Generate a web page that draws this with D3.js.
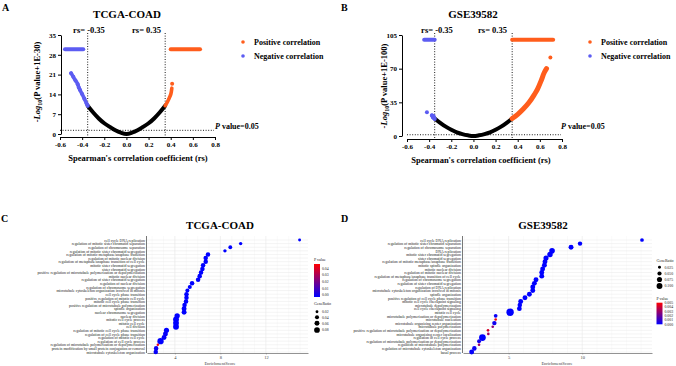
<!DOCTYPE html>
<html>
<head>
<meta charset="utf-8">
<script src="https://cdn.jsdelivr.net/npm/d3@7"></script>
<style>
body { margin: 0; background: #fff; }
svg { display: block; }
</style>
</head>
<body>
<script>
// ---- volcano panels (A, B) ----
var rsTicks = [-0.6, -0.4, -0.2, 0, 0.2, 0.4, 0.6, 0.8];
var yTicksA = [0, 7, 14, 21, 28, 35];
var yTicksB = [0, 35, 70, 105];

var curveRs = [-0.35, -0.3, -0.25, -0.2, -0.15, -0.1, -0.05, 0, 0.05, 0.1, 0.15, 0.2, 0.25, 0.3, 0.35];
var curveA = [10, 7.6, 5.5, 3.8, 2.5, 1.3, 0.45, 0, 0.45, 1.3, 2.5, 3.8, 5.5, 7.6, 10];
var curveB = [18.2, 13.6, 9.7, 6.5, 3.8, 1.95, 0.7, 0, 0.7, 1.95, 3.8, 6.5, 9.7, 13.6, 18.2];

var negRsA = [-0.5, -0.48, -0.46, -0.44, -0.43, -0.42, -0.4, -0.38, -0.36, -0.35];
var negA = [21.5, 20.2, 18.9, 17.6, 16.4, 15.6, 14.1, 12.5, 10.8, 10];
var negExtraRsA = [];
var negExtraA = [];
var posRsA = [0.35, 0.37, 0.39, 0.405, 0.41];
var posA = [10, 11.3, 13, 14.8, 16.2];
var extraRsA = [0.413];
var extraA = [17.8];
var negTopRsA = [-0.555, -0.39];
var posTopRsA = [0.4, 0.665];

var negRsB = [-0.375, -0.37, -0.365, -0.36, -0.355, -0.35];
var negB = [21.5, 20.5, 19.2, 20.8, 18.6, 17.8];
var negExtraRsB = [-0.42];
var negExtraB = [24.6];
var posRsB = [0.35, 0.4, 0.45, 0.5, 0.55, 0.58, 0.61, 0.64, 0.66];
var posB = [18.2, 22.5, 28, 34.5, 43, 49, 57, 66, 70];
var extraRsB = [0.695];
var extraB = [81.7];
var negTopRsB = [-0.445, -0.35];
var posTopRsB = [0.35, 0.72];

// ---- GO dot plots (C, D) ----
var catsC = [
  'cell cycle DNA replication',
  'regulation of mitotic sister chromatid separation',
  'regulation of chromosome separation',
  'regulation of mitotic sister chromatid segregation',
  'regulation of mitotic metaphase/anaphase transition',
  'regulation of mitotic nuclear division',
  'regulation of metaphase/anaphase transition of cell cycle',
  'mitotic sister chromatid segregation',
  'sister chromatid segregation',
  'positive regulation of microtubule polymerization or depolymerization',
  'mitotic nuclear division',
  'regulation of sister chromatid segregation',
  'regulation of nuclear division',
  'regulation of chromosome segregation',
  'microtubule cytoskeleton organization involved in mitosis',
  'cell cycle phase transition',
  'positive regulation of mitotic cell cycle',
  'mitotic cell cycle phase transition',
  'positive regulation of microtubule polymerization',
  'spindle organization',
  'nuclear chromosome segregation',
  'nuclear division',
  'mitotic cell cycle process',
  'mitotic cell cycle',
  'cell division',
  'regulation of mitotic cell cycle phase transition',
  'regulation of cell cycle phase transition',
  'regulation of mitotic cell cycle',
  'regulation of cell cycle process',
  'regulation of microtubule polymerization or depolymerization',
  'protein modification by small protein conjugation or removal',
  'microtubule cytoskeleton organization'
];
var scoreC = [14.96, 9.78, 8.87, 8.4, 6.91, 6.71, 6.71, 6.48, 6.42, 6.3, 6.18, 6.04, 5.51, 5.31, 5.1, 5.02,
  5.02, 4.98, 4.85, 4.81, 4.81, 4.2, 4.1, 4.1, 4.1, 3.26, 3.17, 3.05, 2.74, 2.5, 2.35, 2.32];
var ratioC = [0.021, 0.028, 0.036, 0.028, 0.05, 0.05, 0.05, 0.05, 0.05, 0.05, 0.05, 0.05, 0.05, 0.04, 0.04, 0.05,
  0.05, 0.05, 0.05, 0.06, 0.06, 0.07, 0.083, 0.083, 0.083, 0.065, 0.06, 0.06, 0.097, 0.015, 0.05, 0.05];
var pvalC = [0, 0, 0, 0, 0, 0, 0, 0, 0, 0, 0, 0, 0, 0, 0, 0,
  0, 0, 0, 0, 0, 0, 0, 0, 0, 0, 0.001, 0.001, 0, 0.042, 0.002, 0.001];
var ratioTicksC = [0.02, 0.04, 0.06, 0.08];
var pTicksC = [0, 0.01, 0.02, 0.03, 0.04];
var xTicksC = [4, 8, 12];

var catsD = [
  'cell cycle DNA replication',
  'regulation of mitotic sister chromatid separation',
  'regulation of chromosome separation',
  'DNA replication',
  'mitotic sister chromatid segregation',
  'sister chromatid segregation',
  'regulation of mitotic metaphase/anaphase transition',
  'mitotic spindle organization',
  'mitotic nuclear division',
  'regulation of mitotic nuclear division',
  'regulation of metaphase/anaphase transition of cell cycle',
  'regulation of chromosome segregation',
  'regulation of sister chromatid segregation',
  'regulation of DNA replication',
  'microtubule cytoskeleton organization involved in mitosis',
  'spindle organization',
  'positive regulation of cell cycle phase transition',
  'mitotic cell cycle checkpoint signaling',
  'microtubule depolymerization',
  'cell cycle checkpoint signaling',
  'mitotic cell cycle',
  'microtubule polymerization or depolymerization',
  'microtubule nucleation',
  'microtubule organizing center organization',
  'microtubule polymerization',
  'positive regulation of microtubule polymerization or depolymerization',
  'microtubule organizing center localization',
  'regulation of cell cycle process',
  'regulation of microtubule polymerization or depolymerization',
  'regulation of microtubule polymerization',
  'regulation of microtubule cytoskeleton organization',
  'basal process'
];
var scoreD = [14.06, 9.85, 9.24, 7.95, 7.81, 7.54, 7.47, 7.43, 7.31, 7.25, 7.25, 6.86, 6.75, 6.64, 6.64, 6.41,
  6.11, 5.82, 5.76, 5.73, 5.1, 4.12, 4.12, 4.03, 3.92, 3.6, 3.62, 3.22, 2.99, 2.99, 2.67, 2.49];
var ratioD = [0.04, 0.055, 0.07, 0.09, 0.085, 0.075, 0.07, 0.07, 0.07, 0.07, 0.07, 0.07, 0.07, 0.07, 0.07, 0.07,
  0.07, 0.07, 0.06, 0.065, 0.155, 0.04, 0.02, 0.055, 0.02, 0.02, 0.02, 0.13, 0.045, 0.02, 0.06, 0.07];
var pvalD = [0, 0, 0, 0, 0, 0, 0, 0, 0, 0, 0, 0, 0, 0, 0, 0,
  0, 0, 0, 0, 0, 0.0002, 0.0048, 0.0003, 0.0028, 0.0042, 0.0032, 0, 0.0004, 0.0030, 0.0002, 0.0001];
var ratioTicksD = [0.025, 0.05, 0.075, 0.1];
var pTicksD = [0, 0.001, 0.002, 0.003, 0.004, 0.005];
var xTicksD = [5, 10];

var ORANGE = '#ff5d1c';
var BLUE = '#5c5cf2';
var SERIF = "'Liberation Serif','Times New Roman',serif";

var svg = d3.select('body').append('svg')
  .attr('width', 676)
  .attr('height', 366)
  .style('font-family', SERIF);

function styleAxis(sel, size) {
  sel.attr('font-family', SERIF).attr('font-size', size).attr('font-weight', 'bold');
  sel.selectAll('path.domain').attr('stroke', '#000').attr('stroke-width', 1);
  sel.selectAll('.tick line').attr('stroke', '#000').attr('stroke-width', 1);
  sel.selectAll('.tick text').attr('fill', '#000');
}

function drawVolcano(cfg) {
  var g = svg.append('g');
  var x = d3.scaleLinear().domain([-0.6, 0.8]).range(cfg.xRange);
  var y = d3.scaleLinear().domain(cfg.yDomain).range(cfg.yRange);

  g.append('text').attr('x', cfg.letterX).attr('y', 11)
    .attr('font-size', 10).attr('font-weight', 'bold').text(cfg.letter);
  g.append('text').attr('x', cfg.titleX).attr('y', 18).attr('text-anchor', 'middle')
    .attr('font-size', 11).attr('font-weight', 'bold').text(cfg.title);

  var xAxis = g.append('g').attr('transform', 'translate(0,' + cfg.xAxisY + ')')
    .call(d3.axisBottom(x).tickValues(rsTicks).tickSize(3).tickSizeOuter(0).tickPadding(2)
      .tickFormat(function(d) { return d.toFixed(1); }));
  styleAxis(xAxis, 7);

  var yAxis = g.append('g').attr('transform', 'translate(' + cfg.yAxisX + ',0)')
    .call(d3.axisLeft(y).tickValues(cfg.yTicks).tickSize(3).tickSizeOuter(0).tickPadding(2));
  styleAxis(yAxis, 7);

  g.append('text').attr('x', cfg.xTitleX).attr('y', cfg.xAxisY + 24).attr('text-anchor', 'middle')
    .attr('font-size', 8.5).attr('font-weight', 'bold')
    .text("Spearman's correlation coefficient (rs)");

  var yt = g.append('text')
    .attr('transform', 'translate(' + cfg.yTitleX + ',' + cfg.yTitleY + ') rotate(-90)')
    .attr('text-anchor', 'middle').attr('font-size', 8.5).attr('font-weight', 'bold');
  yt.append('tspan').text('-');
  yt.append('tspan').attr('font-style', 'italic').text('Log');
  yt.append('tspan').attr('font-size', 6).attr('dy', 2).text('10');
  yt.append('tspan').attr('dy', -2).text(cfg.ySuffix);

  // threshold lines
  var top = y(cfg.yDomain[1]) - 2;
  [-0.35, 0.35].forEach(function(v) {
    g.append('line').attr('x1', x(v)).attr('x2', x(v)).attr('y1', top).attr('y2', cfg.xAxisY)
      .attr('stroke', '#000').attr('stroke-width', 0.9).attr('stroke-dasharray', '1,1.6');
  });
  g.append('line').attr('x1', x(-0.6)).attr('x2', x(0.8) - 1)
    .attr('y1', y(1.3)).attr('y2', y(1.3))
    .attr('stroke', '#000').attr('stroke-width', 0.9).attr('stroke-dasharray', '1,1.6');
  g.append('text').attr('x', cfg.negLabelX).attr('y', 33).attr('text-anchor', 'middle')
    .attr('font-size', 8.5).attr('font-weight', 'bold').text('rs= -0.35');
  g.append('text').attr('x', cfg.posLabelX).attr('y', 33).attr('text-anchor', 'end')
    .attr('font-size', 8.5).attr('font-weight', 'bold').text('rs= 0.35');
  var pt = g.append('text').attr('x', cfg.pTextX).attr('y', 129)
    .attr('font-size', 8).attr('font-weight', 'bold');
  pt.append('tspan').attr('font-style', 'italic').text('P');
  pt.append('tspan').text(' value=0.05');

  var line = d3.line().x(function(d) { return x(d[0]); }).y(function(d) { return y(d[1]); })
    .curve(d3.curveMonotoneX);
  function band(rs, vals, color, w) {
    g.append('path').datum(d3.zip(rs, vals)).attr('d', line)
      .attr('fill', 'none').attr('stroke', color).attr('stroke-width', w)
      .attr('stroke-linecap', 'round').attr('stroke-linejoin', 'round');
  }
  function dots(rs, vals, color) {
    g.append('g').selectAll('circle').data(d3.zip(rs, vals)).enter().append('circle')
      .attr('cx', function(d) { return x(d[0]); }).attr('cy', function(d) { return y(d[1]); })
      .attr('r', 2).attr('fill', color);
  }
  band(curveRs, cfg.curve, '#000', 4);
  band(cfg.negRs, cfg.neg, BLUE, 3.6);
  band(cfg.posRs, cfg.pos, ORANGE, cfg.posWidth);
  band(cfg.negTopRs, cfg.negTopRs.map(function() { return cfg.sat; }), BLUE, 4);
  band(cfg.posTopRs, cfg.posTopRs.map(function() { return cfg.sat; }), ORANGE, 4);
  dots(cfg.negRs, cfg.neg, BLUE);
  dots(cfg.negExtraRs, cfg.negExtra, BLUE);
  dots(cfg.extraRs, cfg.extra, ORANGE);

  // legend
  var lg = g.append('g');
  [['Positive correlation', ORANGE], ['Negative correlation', BLUE]].forEach(function(d, i) {
    lg.append('circle').attr('cx', cfg.legendX).attr('cy', 42 + i * 14).attr('r', 1.8).attr('fill', d[1]);
    lg.append('text').attr('x', cfg.legendX + 11).attr('y', 45 + i * 14)
      .attr('font-size', 8).attr('font-weight', 'bold').text(d[0]);
  });
}

drawVolcano({
  letter: 'A', letterX: 2, title: 'TCGA-COAD', titleX: 127,
  xRange: [60, 215], yDomain: [0, 35], yRange: [134, 35], yTicks: yTicksA,
  xAxisY: 137, yAxisX: 61, xTitleX: 138, yTitleX: 40, yTitleY: 82, ySuffix: '(P value+1E-30)',
  negLabelX: 89, posLabelX: 161, pTextX: 215, legendX: 243, sat: 30,
  curve: curveA, negRs: negRsA, neg: negA, negExtraRs: negExtraRsA, negExtra: negExtraA,
  posRs: posRsA, pos: posA, posWidth: 3.6,
  extraRs: extraRsA, extra: extraA, negTopRs: negTopRsA, posTopRs: posTopRsA
});

drawVolcano({
  letter: 'B', letterX: 341, title: 'GSE39582', titleX: 473,
  xRange: [407, 562], yDomain: [0, 105], yRange: [136, 35], yTicks: yTicksB,
  xAxisY: 139, yAxisX: 402, xTitleX: 481, yTitleX: 387, yTitleY: 86, ySuffix: '(P value+1E-100)',
  negLabelX: 437, posLabelX: 507, pTextX: 561, legendX: 590, sat: 100,
  curve: curveB, negRs: negRsB, neg: negB, negExtraRs: negExtraRsB, negExtra: negExtraB,
  posRs: posRsB, pos: posB, posWidth: 5,
  extraRs: extraRsB, extra: extraB, negTopRs: negTopRsB, posTopRs: posTopRsB
});

function drawDots(cfg) {
  var g = svg.append('g');
  var x = d3.scaleLinear().domain(cfg.xDomain).range([cfg.left, cfg.right]);
  var y = d3.scalePoint().domain(cfg.cats).range([240, 352]);
  var r = d3.scaleSqrt().domain([0, 0.1]).range([0, cfg.rMax]);
  var col = d3.scaleLinear().domain([0, cfg.pMax]).range(['#0000ff', '#ff0000']);

  g.append('text').attr('x', cfg.letterX).attr('y', 222)
    .attr('font-size', 10).attr('font-weight', 'bold').text(cfg.letter);
  g.append('text').attr('x', cfg.titleX).attr('y', 229).attr('text-anchor', 'middle')
    .attr('font-size', 11).attr('font-weight', 'bold').text(cfg.title);

  // grid
  var minor = x.ticks(12).filter(function(t) { return cfg.xTicks.indexOf(t) < 0; });
  g.selectAll('line.minor').data(minor).enter().append('line')
    .attr('x1', x).attr('x2', x).attr('y1', 236).attr('y2', 353)
    .attr('stroke', '#f2f2f2').attr('stroke-width', 0.4);
  g.selectAll('line.major').data(cfg.xTicks).enter().append('line')
    .attr('x1', x).attr('x2', x).attr('y1', 236).attr('y2', 353)
    .attr('stroke', '#e6e6e6').attr('stroke-width', 0.6);
  g.selectAll('line.hgrid').data(cfg.cats).enter().append('line')
    .attr('x1', cfg.left).attr('x2', cfg.right).attr('y1', y).attr('y2', y)
    .attr('stroke', '#e8e8e8').attr('stroke-width', 0.5);

  // axes
  var xa = g.append('g').attr('transform', 'translate(0,353)')
    .call(d3.axisBottom(x).tickValues(cfg.xTicks).tickSize(1.5).tickSizeOuter(0).tickPadding(1.5));
  xa.attr('font-family', SERIF).attr('font-size', 4.5);
  xa.selectAll('path.domain').attr('stroke', '#777').attr('stroke-width', 0.8);
  xa.selectAll('.tick line').attr('stroke', '#777').attr('stroke-width', 0.5);
  xa.selectAll('.tick text').attr('fill', '#444');

  var ya = g.append('g').attr('transform', 'translate(' + cfg.left + ',0)')
    .call(d3.axisLeft(y).tickSize(1.2).tickSizeOuter(0).tickPadding(1));
  ya.attr('font-family', SERIF).attr('font-size', 3.8);
  ya.selectAll('path.domain').attr('stroke', '#555').attr('stroke-width', 0.8)
    .attr('d', 'M-0.5,236V353');
  ya.selectAll('.tick line').attr('stroke', '#777').attr('stroke-width', 0.4);
  ya.selectAll('.tick text').attr('fill', '#222');

  g.append('text').attr('x', cfg.xTitleX).attr('y', 365).attr('text-anchor', 'middle')
    .attr('font-size', 4.5).attr('fill', '#444').text('EnrichmentScore');

  // dots
  g.selectAll('circle.dot').data(cfg.cats).enter().append('circle')
    .attr('cx', function(d, i) { return x(cfg.score[i]); })
    .attr('cy', function(d) { return y(d); })
    .attr('r', function(d, i) { return r(cfg.ratio[i]); })
    .attr('fill', function(d, i) { return col(cfg.pval[i]); });

  // legends
  function sizeLegend(lx, ty, ys) {
    g.append('text').attr('x', lx).attr('y', ty).attr('font-size', 4).attr('fill', '#222').text('GeneRatio');
    cfg.ratioTicks.forEach(function(v, i) {
      g.append('circle').attr('cx', lx + 3).attr('cy', ys[i]).attr('r', r(v)).attr('fill', '#000');
      g.append('text').attr('x', lx + 8).attr('y', ys[i] + 1.3).attr('font-size', 3.8)
        .attr('fill', '#222').text(cfg.ratioFmt(v));
    });
  }
  function colorLegend(lx, ty, barTop, barBot, labTop, labBot) {
    g.append('text').attr('x', lx).attr('y', ty).attr('font-size', 4).attr('fill', '#222').text('P value');
    var gid = 'grad' + cfg.letter;
    var grad = svg.append('defs').append('linearGradient').attr('id', gid)
      .attr('x1', 0).attr('y1', 1).attr('x2', 0).attr('y2', 0);
    grad.append('stop').attr('offset', 0).attr('stop-color', col(0));
    grad.append('stop').attr('offset', 1).attr('stop-color', col(cfg.pMax));
    g.append('rect').attr('x', lx).attr('y', barTop).attr('width', 6).attr('height', barBot - barTop)
      .attr('fill', 'url(#' + gid + ')');
    var ly = d3.scaleLinear().domain([0, cfg.pTicks[cfg.pTicks.length - 1]]).range([labBot, labTop]);
    cfg.pTicks.forEach(function(v) {
      g.append('text').attr('x', lx + 8).attr('y', ly(v) + 1.3).attr('font-size', 3.8)
        .attr('fill', '#222').text(cfg.pFmt(v));
    });
  }
  if (cfg.letter === 'C') {
    colorLegend(314, 261, 264, 297, 268.3, 295);
    sizeLegend(314, 305, [311.7, 317.3, 323.3, 330]);
  } else {
    sizeLegend(656.5, 262, [267.3, 273.5, 279.5, 286]);
    colorLegend(656.5, 300, 302.7, 324.3, 302.7, 324.3);
  }
}

drawDots({
  letter: 'C', letterX: 1, title: 'TCGA-COAD', titleX: 220,
  cats: catsC, score: scoreC, ratio: ratioC, pval: pvalC,
  xDomain: [1.55, 15.7], left: 147, right: 308, xTicks: xTicksC, xTitleX: 220,
  rMax: 3.2, pMax: 0.045, ratioTicks: ratioTicksC, pTicks: pTicksC,
  ratioFmt: d3.format('.2f'), pFmt: d3.format('.2f')
});

drawDots({
  letter: 'D', letterX: 341, title: 'GSE39582', titleX: 543,
  cats: catsD, score: scoreD, ratio: ratioD, pval: pvalD,
  xDomain: [1.9, 14.74], left: 463, right: 652, xTicks: xTicksD, xTitleX: 557,
  rMax: 2.95, pMax: 0.005, ratioTicks: ratioTicksD, pTicks: pTicksD,
  ratioFmt: d3.format('.3f'), pFmt: d3.format('.3f')
});
</script>
</body>
</html>
